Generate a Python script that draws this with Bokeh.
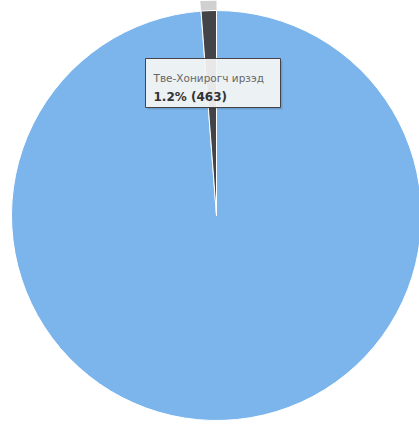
import math
from bokeh.plotting import figure
from bokeh.models import Range1d, ColumnDataSource
from bokeh.core.properties import value
from bokeh.embed import file_html
from bokeh.resources import INLINE

# data
categories = ["Бусад", "Тве-Хонирогч ирзэд"]
values = [38120, 463]
colors = ["#7cb5ec", "#434348"]
hovered = 1

total = sum(values)
fracs = [v / total for v in values]
starts, ends = [], []
acc = 0.0
for f in fracs:
    starts.append(math.pi / 2 - 2 * math.pi * acc)
    acc += f
    ends.append(math.pi / 2 - 2 * math.pi * acc)

# layout constants (screen pixels)
W, H = 419, 425
CX, CY, R = 216, 215, 205

p = figure(width=W, height=H, output_backend="svg", toolbar_location=None,
           x_range=Range1d(0, W), y_range=Range1d(-H, 0),
           min_border=0, outline_line_color=None)
p.axis.visible = False
p.grid.visible = False
p.background_fill_color = "white"
p.border_fill_color = "white"

src = ColumnDataSource(dict(cat=categories, val=values, color=colors,
                            start=starts, end=ends))

# halo of hovered point
p.annular_wedge(x=CX, y=-CY, inner_radius=R, outer_radius=R + 10,
                inner_radius_units="screen", outer_radius_units="screen",
                start_angle=starts[hovered], end_angle=ends[hovered], direction="clock",
                fill_color=colors[hovered], fill_alpha=0.25, line_color=None)

p.wedge(x=CX, y=-CY, radius=R, radius_units="screen",
        start_angle="start", end_angle="end", direction="clock",
        fill_color="color", line_color="white", line_width=1, source=src)

# tooltip
bx0, by0, bx1, by1 = 145, 58, 280, 107
p.quad(left=bx0 + 2, right=bx1 + 2, top=-(by0 + 2), bottom=-(by1 + 2),
       fill_color="black", fill_alpha=0.12, line_color=None)
p.quad(left=bx0, right=bx1, top=-by0, bottom=-by1,
       fill_color="#f7f7f7", fill_alpha=0.92, line_color=colors[hovered], line_width=1)

pct = 100 * values[hovered] / total
p.text(x=[153], y=[-77], text=[categories[hovered]], text_font=value("DejaVu Sans"),
       text_font_size="10.5px", text_color="#666666", text_baseline="alphabetic")
p.text(x=[153], y=[-96], text=[f"{pct:.1f}% ({values[hovered]})"],
       text_font=value("DejaVu Sans"), text_font_style="bold",
       text_font_size="12px", text_color="#333333", text_baseline="alphabetic")

open("out.html", "w").write(file_html(p, INLINE))
